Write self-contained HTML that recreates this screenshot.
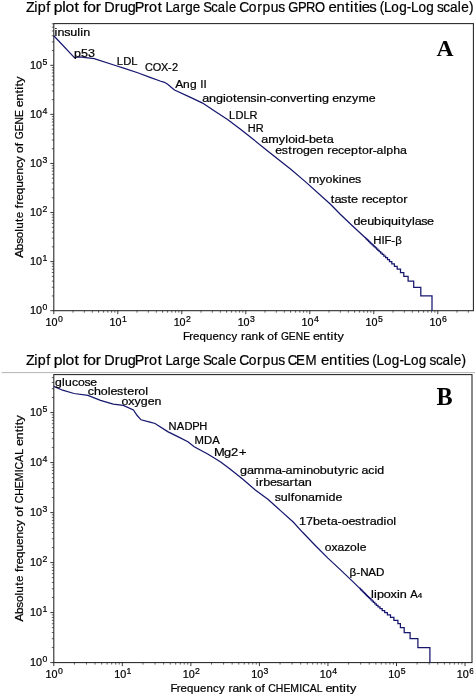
<!DOCTYPE html>
<html><head><meta charset="utf-8"><title>Zipf plots</title>
<style>
html,body{margin:0;padding:0;background:#fff;}
body{width:475px;height:696px;overflow:hidden;}
svg{display:block;will-change:transform;}
text{font-family:"Liberation Sans",sans-serif;fill:#000;stroke:#000;stroke-width:0.22px;}
.ser{font-family:"Liberation Serif",serif;font-weight:bold;fill:#000;stroke:none;}
</style></head><body>
<svg width="475" height="696" viewBox="0 0 475 696">
<rect x="0" y="0" width="475" height="696" fill="#ffffff"/>

<text transform="translate(26.60,11.90) scale(0.994,1)" x="-0.70 7.61 11.16 19.66" y="0" font-size="14.40" stroke="none">Zipf</text><text transform="translate(54.01,11.90) scale(1.093,1)" x="-0.23 7.59 10.62 18.81" y="0" font-size="14.40" stroke="none">plot</text><text transform="translate(82.94,11.90) scale(1.084,1)" x="0.21 4.08 11.88" y="0" font-size="14.40" stroke="none">for</text><text transform="translate(104.71,11.90) scale(1.000,1)" x="-0.37 9.99 15.25 23.06 30.01 39.21 44.35 52.99" y="0" font-size="14.40" stroke="none">DrugProt</text><text transform="translate(165.89,11.90) scale(0.935,1)" x="-0.48 7.07 15.62 20.78 28.72" y="0" font-size="14.40" stroke="none">Large</text><text transform="translate(203.88,11.90) scale(0.906,1)" x="-0.82 8.02 15.35 23.82 27.71" y="0" font-size="14.40" stroke="none">Scale</text><text transform="translate(240.08,11.90) scale(0.964,1)" x="-0.86 8.97 17.71 23.22 31.77 39.64" y="0" font-size="14.40" stroke="none">Corpus</text><text transform="translate(288.39,11.90) scale(0.900,1)" x="-0.10 10.71 19.55 29.57" y="0" font-size="14.40" stroke="none">GPRO</text><text transform="translate(328.71,11.90) scale(1.038,1)" x="-0.24 7.49 15.93 20.48 24.29 28.91 31.94 39.07" y="0" font-size="14.40" stroke="none">entities</text><text transform="translate(379.61,11.90) scale(0.939,1)" x="0.14 4.58 12.51 20.86 28.96 33.43 41.36 49.70" y="0" font-size="14.40" stroke="none">(Log-Log</text><text transform="translate(437.26,11.90) scale(0.946,1)" x="-0.36 6.40 13.41 21.62 25.25 33.50" y="0" font-size="14.40" stroke="none">scale)</text>
<rect x="53.8" y="23.6" width="419.59999999999997" height="287.09999999999997" fill="none" stroke="#222222" stroke-width="1.05"/>
<line x1="53.80" y1="310.7" x2="53.80" y2="314.2" stroke="#222222" stroke-width="0.9"/>
<line x1="73.07" y1="310.7" x2="73.07" y2="312.7" stroke="#222222" stroke-width="0.7"/>
<line x1="84.34" y1="310.7" x2="84.34" y2="312.7" stroke="#222222" stroke-width="0.7"/>
<line x1="92.33" y1="310.7" x2="92.33" y2="312.7" stroke="#222222" stroke-width="0.7"/>
<line x1="98.53" y1="310.7" x2="98.53" y2="312.7" stroke="#222222" stroke-width="0.7"/>
<line x1="103.60" y1="310.7" x2="103.60" y2="312.7" stroke="#222222" stroke-width="0.7"/>
<line x1="107.89" y1="310.7" x2="107.89" y2="312.7" stroke="#222222" stroke-width="0.7"/>
<line x1="111.60" y1="310.7" x2="111.60" y2="312.7" stroke="#222222" stroke-width="0.7"/>
<line x1="114.87" y1="310.7" x2="114.87" y2="312.7" stroke="#222222" stroke-width="0.7"/>
<line x1="117.80" y1="310.7" x2="117.80" y2="314.2" stroke="#222222" stroke-width="0.9"/>
<line x1="137.07" y1="310.7" x2="137.07" y2="312.7" stroke="#222222" stroke-width="0.7"/>
<line x1="148.34" y1="310.7" x2="148.34" y2="312.7" stroke="#222222" stroke-width="0.7"/>
<line x1="156.33" y1="310.7" x2="156.33" y2="312.7" stroke="#222222" stroke-width="0.7"/>
<line x1="162.53" y1="310.7" x2="162.53" y2="312.7" stroke="#222222" stroke-width="0.7"/>
<line x1="167.60" y1="310.7" x2="167.60" y2="312.7" stroke="#222222" stroke-width="0.7"/>
<line x1="171.89" y1="310.7" x2="171.89" y2="312.7" stroke="#222222" stroke-width="0.7"/>
<line x1="175.60" y1="310.7" x2="175.60" y2="312.7" stroke="#222222" stroke-width="0.7"/>
<line x1="178.87" y1="310.7" x2="178.87" y2="312.7" stroke="#222222" stroke-width="0.7"/>
<line x1="181.80" y1="310.7" x2="181.80" y2="314.2" stroke="#222222" stroke-width="0.9"/>
<line x1="201.07" y1="310.7" x2="201.07" y2="312.7" stroke="#222222" stroke-width="0.7"/>
<line x1="212.34" y1="310.7" x2="212.34" y2="312.7" stroke="#222222" stroke-width="0.7"/>
<line x1="220.33" y1="310.7" x2="220.33" y2="312.7" stroke="#222222" stroke-width="0.7"/>
<line x1="226.53" y1="310.7" x2="226.53" y2="312.7" stroke="#222222" stroke-width="0.7"/>
<line x1="231.60" y1="310.7" x2="231.60" y2="312.7" stroke="#222222" stroke-width="0.7"/>
<line x1="235.89" y1="310.7" x2="235.89" y2="312.7" stroke="#222222" stroke-width="0.7"/>
<line x1="239.60" y1="310.7" x2="239.60" y2="312.7" stroke="#222222" stroke-width="0.7"/>
<line x1="242.87" y1="310.7" x2="242.87" y2="312.7" stroke="#222222" stroke-width="0.7"/>
<line x1="245.80" y1="310.7" x2="245.80" y2="314.2" stroke="#222222" stroke-width="0.9"/>
<line x1="265.07" y1="310.7" x2="265.07" y2="312.7" stroke="#222222" stroke-width="0.7"/>
<line x1="276.34" y1="310.7" x2="276.34" y2="312.7" stroke="#222222" stroke-width="0.7"/>
<line x1="284.33" y1="310.7" x2="284.33" y2="312.7" stroke="#222222" stroke-width="0.7"/>
<line x1="290.53" y1="310.7" x2="290.53" y2="312.7" stroke="#222222" stroke-width="0.7"/>
<line x1="295.60" y1="310.7" x2="295.60" y2="312.7" stroke="#222222" stroke-width="0.7"/>
<line x1="299.89" y1="310.7" x2="299.89" y2="312.7" stroke="#222222" stroke-width="0.7"/>
<line x1="303.60" y1="310.7" x2="303.60" y2="312.7" stroke="#222222" stroke-width="0.7"/>
<line x1="306.87" y1="310.7" x2="306.87" y2="312.7" stroke="#222222" stroke-width="0.7"/>
<line x1="309.80" y1="310.7" x2="309.80" y2="314.2" stroke="#222222" stroke-width="0.9"/>
<line x1="329.07" y1="310.7" x2="329.07" y2="312.7" stroke="#222222" stroke-width="0.7"/>
<line x1="340.34" y1="310.7" x2="340.34" y2="312.7" stroke="#222222" stroke-width="0.7"/>
<line x1="348.33" y1="310.7" x2="348.33" y2="312.7" stroke="#222222" stroke-width="0.7"/>
<line x1="354.53" y1="310.7" x2="354.53" y2="312.7" stroke="#222222" stroke-width="0.7"/>
<line x1="359.60" y1="310.7" x2="359.60" y2="312.7" stroke="#222222" stroke-width="0.7"/>
<line x1="363.89" y1="310.7" x2="363.89" y2="312.7" stroke="#222222" stroke-width="0.7"/>
<line x1="367.60" y1="310.7" x2="367.60" y2="312.7" stroke="#222222" stroke-width="0.7"/>
<line x1="370.87" y1="310.7" x2="370.87" y2="312.7" stroke="#222222" stroke-width="0.7"/>
<line x1="373.80" y1="310.7" x2="373.80" y2="314.2" stroke="#222222" stroke-width="0.9"/>
<line x1="393.07" y1="310.7" x2="393.07" y2="312.7" stroke="#222222" stroke-width="0.7"/>
<line x1="404.34" y1="310.7" x2="404.34" y2="312.7" stroke="#222222" stroke-width="0.7"/>
<line x1="412.33" y1="310.7" x2="412.33" y2="312.7" stroke="#222222" stroke-width="0.7"/>
<line x1="418.53" y1="310.7" x2="418.53" y2="312.7" stroke="#222222" stroke-width="0.7"/>
<line x1="423.60" y1="310.7" x2="423.60" y2="312.7" stroke="#222222" stroke-width="0.7"/>
<line x1="427.89" y1="310.7" x2="427.89" y2="312.7" stroke="#222222" stroke-width="0.7"/>
<line x1="431.60" y1="310.7" x2="431.60" y2="312.7" stroke="#222222" stroke-width="0.7"/>
<line x1="434.87" y1="310.7" x2="434.87" y2="312.7" stroke="#222222" stroke-width="0.7"/>
<line x1="437.80" y1="310.7" x2="437.80" y2="314.2" stroke="#222222" stroke-width="0.9"/>
<line x1="457.07" y1="310.7" x2="457.07" y2="312.7" stroke="#222222" stroke-width="0.7"/>
<line x1="468.34" y1="310.7" x2="468.34" y2="312.7" stroke="#222222" stroke-width="0.7"/>
<line x1="50.3" y1="310.70" x2="53.8" y2="310.70" stroke="#222222" stroke-width="0.9"/>
<line x1="51.8" y1="295.93" x2="53.8" y2="295.93" stroke="#222222" stroke-width="0.7"/>
<line x1="51.8" y1="287.28" x2="53.8" y2="287.28" stroke="#222222" stroke-width="0.7"/>
<line x1="51.8" y1="281.15" x2="53.8" y2="281.15" stroke="#222222" stroke-width="0.7"/>
<line x1="51.8" y1="276.39" x2="53.8" y2="276.39" stroke="#222222" stroke-width="0.7"/>
<line x1="51.8" y1="272.51" x2="53.8" y2="272.51" stroke="#222222" stroke-width="0.7"/>
<line x1="51.8" y1="269.22" x2="53.8" y2="269.22" stroke="#222222" stroke-width="0.7"/>
<line x1="51.8" y1="266.38" x2="53.8" y2="266.38" stroke="#222222" stroke-width="0.7"/>
<line x1="51.8" y1="263.87" x2="53.8" y2="263.87" stroke="#222222" stroke-width="0.7"/>
<line x1="50.3" y1="261.62" x2="53.8" y2="261.62" stroke="#222222" stroke-width="0.9"/>
<line x1="51.8" y1="246.85" x2="53.8" y2="246.85" stroke="#222222" stroke-width="0.7"/>
<line x1="51.8" y1="238.20" x2="53.8" y2="238.20" stroke="#222222" stroke-width="0.7"/>
<line x1="51.8" y1="232.07" x2="53.8" y2="232.07" stroke="#222222" stroke-width="0.7"/>
<line x1="51.8" y1="227.31" x2="53.8" y2="227.31" stroke="#222222" stroke-width="0.7"/>
<line x1="51.8" y1="223.43" x2="53.8" y2="223.43" stroke="#222222" stroke-width="0.7"/>
<line x1="51.8" y1="220.14" x2="53.8" y2="220.14" stroke="#222222" stroke-width="0.7"/>
<line x1="51.8" y1="217.30" x2="53.8" y2="217.30" stroke="#222222" stroke-width="0.7"/>
<line x1="51.8" y1="214.79" x2="53.8" y2="214.79" stroke="#222222" stroke-width="0.7"/>
<line x1="50.3" y1="212.54" x2="53.8" y2="212.54" stroke="#222222" stroke-width="0.9"/>
<line x1="51.8" y1="197.77" x2="53.8" y2="197.77" stroke="#222222" stroke-width="0.7"/>
<line x1="51.8" y1="189.12" x2="53.8" y2="189.12" stroke="#222222" stroke-width="0.7"/>
<line x1="51.8" y1="182.99" x2="53.8" y2="182.99" stroke="#222222" stroke-width="0.7"/>
<line x1="51.8" y1="178.23" x2="53.8" y2="178.23" stroke="#222222" stroke-width="0.7"/>
<line x1="51.8" y1="174.35" x2="53.8" y2="174.35" stroke="#222222" stroke-width="0.7"/>
<line x1="51.8" y1="171.06" x2="53.8" y2="171.06" stroke="#222222" stroke-width="0.7"/>
<line x1="51.8" y1="168.22" x2="53.8" y2="168.22" stroke="#222222" stroke-width="0.7"/>
<line x1="51.8" y1="165.71" x2="53.8" y2="165.71" stroke="#222222" stroke-width="0.7"/>
<line x1="50.3" y1="163.46" x2="53.8" y2="163.46" stroke="#222222" stroke-width="0.9"/>
<line x1="51.8" y1="148.69" x2="53.8" y2="148.69" stroke="#222222" stroke-width="0.7"/>
<line x1="51.8" y1="140.04" x2="53.8" y2="140.04" stroke="#222222" stroke-width="0.7"/>
<line x1="51.8" y1="133.91" x2="53.8" y2="133.91" stroke="#222222" stroke-width="0.7"/>
<line x1="51.8" y1="129.15" x2="53.8" y2="129.15" stroke="#222222" stroke-width="0.7"/>
<line x1="51.8" y1="125.27" x2="53.8" y2="125.27" stroke="#222222" stroke-width="0.7"/>
<line x1="51.8" y1="121.98" x2="53.8" y2="121.98" stroke="#222222" stroke-width="0.7"/>
<line x1="51.8" y1="119.14" x2="53.8" y2="119.14" stroke="#222222" stroke-width="0.7"/>
<line x1="51.8" y1="116.63" x2="53.8" y2="116.63" stroke="#222222" stroke-width="0.7"/>
<line x1="50.3" y1="114.38" x2="53.8" y2="114.38" stroke="#222222" stroke-width="0.9"/>
<line x1="51.8" y1="99.61" x2="53.8" y2="99.61" stroke="#222222" stroke-width="0.7"/>
<line x1="51.8" y1="90.96" x2="53.8" y2="90.96" stroke="#222222" stroke-width="0.7"/>
<line x1="51.8" y1="84.83" x2="53.8" y2="84.83" stroke="#222222" stroke-width="0.7"/>
<line x1="51.8" y1="80.07" x2="53.8" y2="80.07" stroke="#222222" stroke-width="0.7"/>
<line x1="51.8" y1="76.19" x2="53.8" y2="76.19" stroke="#222222" stroke-width="0.7"/>
<line x1="51.8" y1="72.90" x2="53.8" y2="72.90" stroke="#222222" stroke-width="0.7"/>
<line x1="51.8" y1="70.06" x2="53.8" y2="70.06" stroke="#222222" stroke-width="0.7"/>
<line x1="51.8" y1="67.55" x2="53.8" y2="67.55" stroke="#222222" stroke-width="0.7"/>
<line x1="50.3" y1="65.30" x2="53.8" y2="65.30" stroke="#222222" stroke-width="0.9"/>
<line x1="51.8" y1="50.53" x2="53.8" y2="50.53" stroke="#222222" stroke-width="0.7"/>
<line x1="51.8" y1="41.88" x2="53.8" y2="41.88" stroke="#222222" stroke-width="0.7"/>
<line x1="51.8" y1="35.75" x2="53.8" y2="35.75" stroke="#222222" stroke-width="0.7"/>
<line x1="51.8" y1="30.99" x2="53.8" y2="30.99" stroke="#222222" stroke-width="0.7"/>
<line x1="51.8" y1="27.11" x2="53.8" y2="27.11" stroke="#222222" stroke-width="0.7"/>
<line x1="51.8" y1="23.82" x2="53.8" y2="23.82" stroke="#222222" stroke-width="0.7"/>
<text x="45.62" y="325.60" font-size="10.97" textLength="12.00" lengthAdjust="spacingAndGlyphs">10</text><text x="57.97" y="321.60" font-size="8.7">0</text>
<text x="109.62" y="325.60" font-size="10.97" textLength="12.00" lengthAdjust="spacingAndGlyphs">10</text><text x="121.97" y="321.60" font-size="8.7">1</text>
<text x="173.63" y="325.60" font-size="10.97" textLength="12.00" lengthAdjust="spacingAndGlyphs">10</text><text x="185.98" y="321.60" font-size="8.7">2</text>
<text x="237.63" y="325.60" font-size="10.97" textLength="12.00" lengthAdjust="spacingAndGlyphs">10</text><text x="249.98" y="321.60" font-size="8.7">3</text>
<text x="301.62" y="325.60" font-size="10.97" textLength="12.00" lengthAdjust="spacingAndGlyphs">10</text><text x="313.98" y="321.60" font-size="8.7">4</text>
<text x="365.62" y="325.60" font-size="10.97" textLength="12.00" lengthAdjust="spacingAndGlyphs">10</text><text x="377.98" y="321.60" font-size="8.7">5</text>
<text x="429.62" y="325.60" font-size="10.97" textLength="12.00" lengthAdjust="spacingAndGlyphs">10</text><text x="441.98" y="321.60" font-size="8.7">6</text>
<text x="30.05" y="314.30" font-size="10.97" textLength="12.00" lengthAdjust="spacingAndGlyphs">10</text><text x="42.40" y="310.30" font-size="8.7">0</text>
<text x="30.05" y="265.22" font-size="10.97" textLength="12.00" lengthAdjust="spacingAndGlyphs">10</text><text x="42.40" y="261.22" font-size="8.7">1</text>
<text x="30.05" y="216.14" font-size="10.97" textLength="12.00" lengthAdjust="spacingAndGlyphs">10</text><text x="42.40" y="212.14" font-size="8.7">2</text>
<text x="30.05" y="167.06" font-size="10.97" textLength="12.00" lengthAdjust="spacingAndGlyphs">10</text><text x="42.40" y="163.06" font-size="8.7">3</text>
<text x="30.05" y="117.98" font-size="10.97" textLength="12.00" lengthAdjust="spacingAndGlyphs">10</text><text x="42.40" y="113.98" font-size="8.7">4</text>
<text x="30.05" y="68.90" font-size="10.97" textLength="12.00" lengthAdjust="spacingAndGlyphs">10</text><text x="42.40" y="64.90" font-size="8.7">5</text>
<text transform="translate(183.51,340.00) scale(1.041,1)" x="-0.47 5.64 9.09 15.25 21.62 27.89 34.15 40.40 46.13" y="0" font-size="10.97">Frequency</text><text transform="translate(240.82,340.00) scale(1.095,1)" x="0.13 3.80 9.74 15.84" y="0" font-size="10.97">rank</text><text transform="translate(267.52,340.00) scale(1.101,1)" x="-0.15 5.96" y="0" font-size="10.97">of</text><text transform="translate(280.91,340.00) scale(0.936,1)" x="0.06 8.51 15.91 23.91" y="0" font-size="10.97">GENE</text><text transform="translate(313.35,340.00) scale(1.157,1)" x="-0.27 5.37 11.53 14.86 17.58 20.81" y="0" font-size="10.97">entity</text>
<g transform="translate(22.7,257.45) rotate(-90)"><text transform="translate(0.00,0.00) scale(1.070,1)" x="-0.32 6.73 12.69 17.91 24.09 26.71 33.25 36.64" y="0" font-size="10.97">Absolute</text><text transform="translate(48.99,0.00) scale(1.088,1)" x="0.17 3.53 7.13 13.03 19.12 25.12 31.12 37.12 42.60" y="0" font-size="10.97">frequency</text><text transform="translate(104.73,0.00) scale(1.101,1)" x="-0.15 5.96" y="0" font-size="10.97">of</text><text transform="translate(118.12,0.00) scale(0.936,1)" x="0.06 8.51 15.91 23.91" y="0" font-size="10.97">GENE</text><text transform="translate(150.57,0.00) scale(1.157,1)" x="-0.27 5.37 11.53 14.86 17.58 20.81" y="0" font-size="10.97">entity</text></g>
<polyline fill="none" stroke="#16166e" stroke-width="1.25" stroke-linejoin="miter" points="53.8,35.7 74.4,57.6 79.5,57.0 94.2,58.6 117.0,66.0 123.7,68.1 138.4,73.0 150.0,77.4 160.1,81.0 164.4,82.3 167.7,84.2 170.9,87.0 174.5,90.0 190.0,97.1 202.6,103.1 215.3,111.5 227.9,119.8 240.5,129.2 253.2,139.3 265.8,149.4 278.4,159.5 291.1,169.6 305.3,181.6 330.5,204.3 340.0,214.0 352.6,226.0 365.3,237.8 372.0,244.1 366.1,238.2 366.1,238.9 366.9,238.9 366.9,239.7 367.7,239.7 367.7,240.4 368.5,240.4 368.5,241.3 369.4,241.3 369.4,242.1 370.3,242.1 370.3,243.0 371.2,243.0 371.2,243.9 372.2,243.9 372.2,244.8 373.3,244.8 373.3,245.8 374.3,245.8 374.3,246.8 375.5,246.8 375.5,247.9 376.6,247.9 376.6,249.1 377.9,249.1 377.9,250.3 379.2,250.3 379.2,251.6 380.7,251.6 380.7,253.0 382.2,253.0 382.2,254.4 383.8,254.4 383.8,256.0 385.6,256.0 385.6,257.7 387.5,257.7 387.5,259.6 389.5,259.6 389.5,261.6 391.8,261.6 391.8,263.9 394.4,263.9 394.4,266.4 397.2,266.4 397.2,269.2 400.5,269.2 400.5,272.5 403.8,272.5 403.8,276.4 408.1,276.4 408.1,281.2 413.7,281.2 413.7,287.3 420.8,287.3 420.8,295.9 432.0,295.9 432.0,310.7"/>
<text transform="translate(54.50,36.00) scale(1.094,1)" x="0.11 2.76 8.86 14.32 20.80 23.58 26.23" y="0" font-size="11.50">insulin</text>
<text transform="translate(74.10,56.60) scale(1.089,1)" x="-0.00 6.39 12.79" y="0" font-size="11.50">p53</text>
<text transform="translate(116.90,64.60) scale(0.978,1)" x="-0.08 6.39 14.78" y="0" font-size="11.50">LDL</text>
<text transform="translate(145.10,71.30) scale(0.952,1)" x="-0.13 8.09 16.83 24.11 28.28" y="0" font-size="11.50">COX-2</text>
<text transform="translate(175.50,87.90) scale(1.045,1)" x="-0.25 7.29 13.94" y="0" font-size="11.50">Ang</text><text transform="translate(200.36,87.90) scale(1.011,1)" x="-0.00 3.19" y="0" font-size="11.50">II</text>
<text transform="translate(202.30,101.60) scale(1.094,1)" x="-0.13 6.11 12.46 18.95 21.48 28.10 31.54 37.79 43.90 49.49 52.13 58.40 61.99 67.48 73.72 80.18 85.89 92.31 96.65 100.32 102.97 109.31" y="0" font-size="11.50">angiotensin-converting</text><text transform="translate(332.34,101.60) scale(1.076,1)" x="-0.07 6.29 12.51 18.19 24.25 33.93" y="0" font-size="11.50">enzyme</text>
<text transform="translate(229.10,119.20) scale(0.961,1)" x="-0.02 6.59 15.10 21.28" y="0" font-size="11.50">LDLR</text>
<text transform="translate(247.70,132.10) scale(0.954,1)" x="0.16 8.47" y="0" font-size="11.50">HR</text>
<text transform="translate(261.40,142.80) scale(1.097,1)" x="-0.14 6.19 15.91 21.85 24.37 30.73 33.36 39.61 43.29 49.53 56.16 59.57" y="0" font-size="11.50">amyloid-beta</text>
<text transform="translate(275.30,153.90) scale(1.080,1)" x="-0.08 6.00 11.91 15.67 19.46 25.67 32.00 38.33" y="0" font-size="11.50">estrogen</text><text transform="translate(327.10,153.90) scale(1.076,1)" x="0.18 4.00 10.14 15.74 22.10 28.92 32.43 38.92 42.52 45.86 52.31 55.03 61.48 67.83" y="0" font-size="11.50">receptor-alpha</text>
<text transform="translate(308.50,182.50) scale(1.083,1)" x="0.13 9.96 15.72 22.06 27.99 30.68 36.99 43.05" y="0" font-size="11.50">myokines</text>
<text transform="translate(330.30,202.60) scale(1.113,1)" x="0.33 3.68 9.58 15.35 18.70" y="0" font-size="11.50">taste</text><text transform="translate(361.52,202.60) scale(1.095,1)" x="0.14 3.88 9.91 15.41 21.66 28.40 31.81 38.21" y="0" font-size="11.50">receptor</text>
<text transform="translate(353.50,224.70) scale(1.095,1)" x="-0.02 6.22 12.47 18.81 25.29 27.93 34.27 40.75 43.78 47.42 53.36 55.89 61.88 67.24" y="0" font-size="11.50">deubiquitylase</text>
<text transform="translate(373.30,244.10) scale(0.991,1)" x="0.00 8.34 11.23 18.00 22.13" y="0" font-size="11.50">HIF-β</text>
<text class="ser" x="436.4" y="56.1" font-size="23.6">A</text>
<line x1="1.5" y1="372.6" x2="475" y2="372.6" stroke="#b4b4b4" stroke-width="1"/>
<text transform="translate(26.60,364.70) scale(0.967,1)" x="-0.72 7.82 11.47 20.21" y="0" font-size="14.80" stroke="none">Zipf</text><text transform="translate(54.00,364.70) scale(1.064,1)" x="-0.24 7.80 10.91 19.34" y="0" font-size="14.80" stroke="none">plot</text><text transform="translate(82.93,364.70) scale(1.054,1)" x="0.22 4.20 12.21" y="0" font-size="14.80" stroke="none">for</text><text transform="translate(104.69,364.70) scale(0.973,1)" x="-0.38 10.27 15.67 23.70 30.85 40.30 45.58 54.46" y="0" font-size="14.80" stroke="none">DrugProt</text><text transform="translate(165.86,364.70) scale(0.910,1)" x="-0.49 7.27 16.06 21.36 29.52" y="0" font-size="14.80" stroke="none">Large</text><text transform="translate(203.85,364.70) scale(0.900,1)" x="-0.93 8.00 15.38 23.95 27.82" y="0" font-size="14.80" stroke="none">Scale</text><text transform="translate(240.04,364.70) scale(0.938,1)" x="-0.88 9.22 18.20 23.86 32.65 40.74" y="0" font-size="14.80" stroke="none">Corpus</text><text transform="translate(288.34,364.70) scale(0.900,1)" x="-0.69 8.62 19.10" y="0" font-size="14.80" stroke="none">CEM</text><text transform="translate(321.34,364.70) scale(1.010,1)" x="-0.25 7.70 16.38 21.05 24.97 29.71 32.83 40.15" y="0" font-size="14.80" stroke="none">entities</text><text transform="translate(372.23,364.70) scale(0.913,1)" x="0.14 4.71 12.86 21.44 29.76 34.36 42.50 51.08" y="0" font-size="14.80" stroke="none">(Log-Log</text><text transform="translate(429.87,364.70) scale(0.920,1)" x="-0.37 6.58 13.78 22.22 25.95 34.43" y="0" font-size="14.80" stroke="none">scale)</text>
<rect x="53.8" y="374.6" width="418.2" height="288.0" fill="none" stroke="#222222" stroke-width="1.05"/>
<line x1="53.80" y1="662.6" x2="53.80" y2="666.1" stroke="#222222" stroke-width="0.9"/>
<line x1="74.43" y1="662.6" x2="74.43" y2="664.6" stroke="#222222" stroke-width="0.7"/>
<line x1="86.50" y1="662.6" x2="86.50" y2="664.6" stroke="#222222" stroke-width="0.7"/>
<line x1="95.07" y1="662.6" x2="95.07" y2="664.6" stroke="#222222" stroke-width="0.7"/>
<line x1="101.71" y1="662.6" x2="101.71" y2="664.6" stroke="#222222" stroke-width="0.7"/>
<line x1="107.13" y1="662.6" x2="107.13" y2="664.6" stroke="#222222" stroke-width="0.7"/>
<line x1="111.72" y1="662.6" x2="111.72" y2="664.6" stroke="#222222" stroke-width="0.7"/>
<line x1="115.70" y1="662.6" x2="115.70" y2="664.6" stroke="#222222" stroke-width="0.7"/>
<line x1="119.20" y1="662.6" x2="119.20" y2="664.6" stroke="#222222" stroke-width="0.7"/>
<line x1="122.34" y1="662.6" x2="122.34" y2="666.1" stroke="#222222" stroke-width="0.9"/>
<line x1="142.97" y1="662.6" x2="142.97" y2="664.6" stroke="#222222" stroke-width="0.7"/>
<line x1="155.04" y1="662.6" x2="155.04" y2="664.6" stroke="#222222" stroke-width="0.7"/>
<line x1="163.61" y1="662.6" x2="163.61" y2="664.6" stroke="#222222" stroke-width="0.7"/>
<line x1="170.25" y1="662.6" x2="170.25" y2="664.6" stroke="#222222" stroke-width="0.7"/>
<line x1="175.67" y1="662.6" x2="175.67" y2="664.6" stroke="#222222" stroke-width="0.7"/>
<line x1="180.26" y1="662.6" x2="180.26" y2="664.6" stroke="#222222" stroke-width="0.7"/>
<line x1="184.24" y1="662.6" x2="184.24" y2="664.6" stroke="#222222" stroke-width="0.7"/>
<line x1="187.74" y1="662.6" x2="187.74" y2="664.6" stroke="#222222" stroke-width="0.7"/>
<line x1="190.88" y1="662.6" x2="190.88" y2="666.1" stroke="#222222" stroke-width="0.9"/>
<line x1="211.51" y1="662.6" x2="211.51" y2="664.6" stroke="#222222" stroke-width="0.7"/>
<line x1="223.58" y1="662.6" x2="223.58" y2="664.6" stroke="#222222" stroke-width="0.7"/>
<line x1="232.15" y1="662.6" x2="232.15" y2="664.6" stroke="#222222" stroke-width="0.7"/>
<line x1="238.79" y1="662.6" x2="238.79" y2="664.6" stroke="#222222" stroke-width="0.7"/>
<line x1="244.21" y1="662.6" x2="244.21" y2="664.6" stroke="#222222" stroke-width="0.7"/>
<line x1="248.80" y1="662.6" x2="248.80" y2="664.6" stroke="#222222" stroke-width="0.7"/>
<line x1="252.78" y1="662.6" x2="252.78" y2="664.6" stroke="#222222" stroke-width="0.7"/>
<line x1="256.28" y1="662.6" x2="256.28" y2="664.6" stroke="#222222" stroke-width="0.7"/>
<line x1="259.42" y1="662.6" x2="259.42" y2="666.1" stroke="#222222" stroke-width="0.9"/>
<line x1="280.05" y1="662.6" x2="280.05" y2="664.6" stroke="#222222" stroke-width="0.7"/>
<line x1="292.12" y1="662.6" x2="292.12" y2="664.6" stroke="#222222" stroke-width="0.7"/>
<line x1="300.69" y1="662.6" x2="300.69" y2="664.6" stroke="#222222" stroke-width="0.7"/>
<line x1="307.33" y1="662.6" x2="307.33" y2="664.6" stroke="#222222" stroke-width="0.7"/>
<line x1="312.75" y1="662.6" x2="312.75" y2="664.6" stroke="#222222" stroke-width="0.7"/>
<line x1="317.34" y1="662.6" x2="317.34" y2="664.6" stroke="#222222" stroke-width="0.7"/>
<line x1="321.32" y1="662.6" x2="321.32" y2="664.6" stroke="#222222" stroke-width="0.7"/>
<line x1="324.82" y1="662.6" x2="324.82" y2="664.6" stroke="#222222" stroke-width="0.7"/>
<line x1="327.96" y1="662.6" x2="327.96" y2="666.1" stroke="#222222" stroke-width="0.9"/>
<line x1="348.59" y1="662.6" x2="348.59" y2="664.6" stroke="#222222" stroke-width="0.7"/>
<line x1="360.66" y1="662.6" x2="360.66" y2="664.6" stroke="#222222" stroke-width="0.7"/>
<line x1="369.23" y1="662.6" x2="369.23" y2="664.6" stroke="#222222" stroke-width="0.7"/>
<line x1="375.87" y1="662.6" x2="375.87" y2="664.6" stroke="#222222" stroke-width="0.7"/>
<line x1="381.29" y1="662.6" x2="381.29" y2="664.6" stroke="#222222" stroke-width="0.7"/>
<line x1="385.88" y1="662.6" x2="385.88" y2="664.6" stroke="#222222" stroke-width="0.7"/>
<line x1="389.86" y1="662.6" x2="389.86" y2="664.6" stroke="#222222" stroke-width="0.7"/>
<line x1="393.36" y1="662.6" x2="393.36" y2="664.6" stroke="#222222" stroke-width="0.7"/>
<line x1="396.50" y1="662.6" x2="396.50" y2="666.1" stroke="#222222" stroke-width="0.9"/>
<line x1="417.13" y1="662.6" x2="417.13" y2="664.6" stroke="#222222" stroke-width="0.7"/>
<line x1="429.20" y1="662.6" x2="429.20" y2="664.6" stroke="#222222" stroke-width="0.7"/>
<line x1="437.77" y1="662.6" x2="437.77" y2="664.6" stroke="#222222" stroke-width="0.7"/>
<line x1="444.41" y1="662.6" x2="444.41" y2="664.6" stroke="#222222" stroke-width="0.7"/>
<line x1="449.83" y1="662.6" x2="449.83" y2="664.6" stroke="#222222" stroke-width="0.7"/>
<line x1="454.42" y1="662.6" x2="454.42" y2="664.6" stroke="#222222" stroke-width="0.7"/>
<line x1="458.40" y1="662.6" x2="458.40" y2="664.6" stroke="#222222" stroke-width="0.7"/>
<line x1="461.90" y1="662.6" x2="461.90" y2="664.6" stroke="#222222" stroke-width="0.7"/>
<line x1="465.04" y1="662.6" x2="465.04" y2="666.1" stroke="#222222" stroke-width="0.9"/>
<line x1="50.3" y1="662.60" x2="53.8" y2="662.60" stroke="#222222" stroke-width="0.9"/>
<line x1="51.8" y1="647.55" x2="53.8" y2="647.55" stroke="#222222" stroke-width="0.7"/>
<line x1="51.8" y1="638.74" x2="53.8" y2="638.74" stroke="#222222" stroke-width="0.7"/>
<line x1="51.8" y1="632.50" x2="53.8" y2="632.50" stroke="#222222" stroke-width="0.7"/>
<line x1="51.8" y1="627.65" x2="53.8" y2="627.65" stroke="#222222" stroke-width="0.7"/>
<line x1="51.8" y1="623.69" x2="53.8" y2="623.69" stroke="#222222" stroke-width="0.7"/>
<line x1="51.8" y1="620.35" x2="53.8" y2="620.35" stroke="#222222" stroke-width="0.7"/>
<line x1="51.8" y1="617.45" x2="53.8" y2="617.45" stroke="#222222" stroke-width="0.7"/>
<line x1="51.8" y1="614.89" x2="53.8" y2="614.89" stroke="#222222" stroke-width="0.7"/>
<line x1="50.3" y1="612.60" x2="53.8" y2="612.60" stroke="#222222" stroke-width="0.9"/>
<line x1="51.8" y1="597.55" x2="53.8" y2="597.55" stroke="#222222" stroke-width="0.7"/>
<line x1="51.8" y1="588.74" x2="53.8" y2="588.74" stroke="#222222" stroke-width="0.7"/>
<line x1="51.8" y1="582.50" x2="53.8" y2="582.50" stroke="#222222" stroke-width="0.7"/>
<line x1="51.8" y1="577.65" x2="53.8" y2="577.65" stroke="#222222" stroke-width="0.7"/>
<line x1="51.8" y1="573.69" x2="53.8" y2="573.69" stroke="#222222" stroke-width="0.7"/>
<line x1="51.8" y1="570.35" x2="53.8" y2="570.35" stroke="#222222" stroke-width="0.7"/>
<line x1="51.8" y1="567.45" x2="53.8" y2="567.45" stroke="#222222" stroke-width="0.7"/>
<line x1="51.8" y1="564.89" x2="53.8" y2="564.89" stroke="#222222" stroke-width="0.7"/>
<line x1="50.3" y1="562.60" x2="53.8" y2="562.60" stroke="#222222" stroke-width="0.9"/>
<line x1="51.8" y1="547.55" x2="53.8" y2="547.55" stroke="#222222" stroke-width="0.7"/>
<line x1="51.8" y1="538.74" x2="53.8" y2="538.74" stroke="#222222" stroke-width="0.7"/>
<line x1="51.8" y1="532.50" x2="53.8" y2="532.50" stroke="#222222" stroke-width="0.7"/>
<line x1="51.8" y1="527.65" x2="53.8" y2="527.65" stroke="#222222" stroke-width="0.7"/>
<line x1="51.8" y1="523.69" x2="53.8" y2="523.69" stroke="#222222" stroke-width="0.7"/>
<line x1="51.8" y1="520.35" x2="53.8" y2="520.35" stroke="#222222" stroke-width="0.7"/>
<line x1="51.8" y1="517.45" x2="53.8" y2="517.45" stroke="#222222" stroke-width="0.7"/>
<line x1="51.8" y1="514.89" x2="53.8" y2="514.89" stroke="#222222" stroke-width="0.7"/>
<line x1="50.3" y1="512.60" x2="53.8" y2="512.60" stroke="#222222" stroke-width="0.9"/>
<line x1="51.8" y1="497.55" x2="53.8" y2="497.55" stroke="#222222" stroke-width="0.7"/>
<line x1="51.8" y1="488.74" x2="53.8" y2="488.74" stroke="#222222" stroke-width="0.7"/>
<line x1="51.8" y1="482.50" x2="53.8" y2="482.50" stroke="#222222" stroke-width="0.7"/>
<line x1="51.8" y1="477.65" x2="53.8" y2="477.65" stroke="#222222" stroke-width="0.7"/>
<line x1="51.8" y1="473.69" x2="53.8" y2="473.69" stroke="#222222" stroke-width="0.7"/>
<line x1="51.8" y1="470.35" x2="53.8" y2="470.35" stroke="#222222" stroke-width="0.7"/>
<line x1="51.8" y1="467.45" x2="53.8" y2="467.45" stroke="#222222" stroke-width="0.7"/>
<line x1="51.8" y1="464.89" x2="53.8" y2="464.89" stroke="#222222" stroke-width="0.7"/>
<line x1="50.3" y1="462.60" x2="53.8" y2="462.60" stroke="#222222" stroke-width="0.9"/>
<line x1="51.8" y1="447.55" x2="53.8" y2="447.55" stroke="#222222" stroke-width="0.7"/>
<line x1="51.8" y1="438.74" x2="53.8" y2="438.74" stroke="#222222" stroke-width="0.7"/>
<line x1="51.8" y1="432.50" x2="53.8" y2="432.50" stroke="#222222" stroke-width="0.7"/>
<line x1="51.8" y1="427.65" x2="53.8" y2="427.65" stroke="#222222" stroke-width="0.7"/>
<line x1="51.8" y1="423.69" x2="53.8" y2="423.69" stroke="#222222" stroke-width="0.7"/>
<line x1="51.8" y1="420.35" x2="53.8" y2="420.35" stroke="#222222" stroke-width="0.7"/>
<line x1="51.8" y1="417.45" x2="53.8" y2="417.45" stroke="#222222" stroke-width="0.7"/>
<line x1="51.8" y1="414.89" x2="53.8" y2="414.89" stroke="#222222" stroke-width="0.7"/>
<line x1="50.3" y1="412.60" x2="53.8" y2="412.60" stroke="#222222" stroke-width="0.9"/>
<line x1="51.8" y1="397.55" x2="53.8" y2="397.55" stroke="#222222" stroke-width="0.7"/>
<line x1="51.8" y1="388.74" x2="53.8" y2="388.74" stroke="#222222" stroke-width="0.7"/>
<line x1="51.8" y1="382.50" x2="53.8" y2="382.50" stroke="#222222" stroke-width="0.7"/>
<line x1="51.8" y1="377.65" x2="53.8" y2="377.65" stroke="#222222" stroke-width="0.7"/>
<text x="45.62" y="678.00" font-size="10.97" textLength="12.00" lengthAdjust="spacingAndGlyphs">10</text><text x="57.97" y="674.00" font-size="8.7">0</text>
<text x="114.17" y="678.00" font-size="10.97" textLength="12.00" lengthAdjust="spacingAndGlyphs">10</text><text x="126.52" y="674.00" font-size="8.7">1</text>
<text x="182.71" y="678.00" font-size="10.97" textLength="12.00" lengthAdjust="spacingAndGlyphs">10</text><text x="195.06" y="674.00" font-size="8.7">2</text>
<text x="251.25" y="678.00" font-size="10.97" textLength="12.00" lengthAdjust="spacingAndGlyphs">10</text><text x="263.60" y="674.00" font-size="8.7">3</text>
<text x="319.79" y="678.00" font-size="10.97" textLength="12.00" lengthAdjust="spacingAndGlyphs">10</text><text x="332.14" y="674.00" font-size="8.7">4</text>
<text x="388.33" y="678.00" font-size="10.97" textLength="12.00" lengthAdjust="spacingAndGlyphs">10</text><text x="400.68" y="674.00" font-size="8.7">5</text>
<text x="456.87" y="678.00" font-size="10.97" textLength="12.00" lengthAdjust="spacingAndGlyphs">10</text><text x="469.22" y="674.00" font-size="8.7">6</text>
<text x="30.05" y="666.20" font-size="10.97" textLength="12.00" lengthAdjust="spacingAndGlyphs">10</text><text x="42.40" y="662.20" font-size="8.7">0</text>
<text x="30.05" y="616.20" font-size="10.97" textLength="12.00" lengthAdjust="spacingAndGlyphs">10</text><text x="42.40" y="612.20" font-size="8.7">1</text>
<text x="30.05" y="566.20" font-size="10.97" textLength="12.00" lengthAdjust="spacingAndGlyphs">10</text><text x="42.40" y="562.20" font-size="8.7">2</text>
<text x="30.05" y="516.20" font-size="10.97" textLength="12.00" lengthAdjust="spacingAndGlyphs">10</text><text x="42.40" y="512.20" font-size="8.7">3</text>
<text x="30.05" y="466.20" font-size="10.97" textLength="12.00" lengthAdjust="spacingAndGlyphs">10</text><text x="42.40" y="462.20" font-size="8.7">4</text>
<text x="30.05" y="416.20" font-size="10.97" textLength="12.00" lengthAdjust="spacingAndGlyphs">10</text><text x="42.40" y="412.20" font-size="8.7">5</text>
<text transform="translate(171.01,691.60) scale(1.041,1)" x="-0.47 5.64 9.09 15.25 21.62 27.89 34.15 40.40 46.13" y="0" font-size="10.97">Frequency</text><text transform="translate(228.32,691.60) scale(1.095,1)" x="0.13 3.80 9.74 15.84" y="0" font-size="10.97">rank</text><text transform="translate(255.02,691.60) scale(1.101,1)" x="-0.15 5.96" y="0" font-size="10.97">of</text><text transform="translate(268.41,691.60) scale(0.955,1)" x="-0.14 7.80 15.68 22.95 32.33 35.33 43.20 50.60" y="0" font-size="10.97">CHEMICAL</text><text transform="translate(325.85,691.60) scale(1.157,1)" x="-0.27 5.37 11.53 14.86 17.58 20.81" y="0" font-size="10.97">entity</text>
<g transform="translate(22.7,621.25) rotate(-90)"><text transform="translate(0.00,0.00) scale(1.070,1)" x="-0.32 6.73 12.69 17.91 24.09 26.71 33.25 36.64" y="0" font-size="10.97">Absolute</text><text transform="translate(48.99,0.00) scale(1.088,1)" x="0.17 3.53 7.13 13.03 19.12 25.12 31.12 37.12 42.60" y="0" font-size="10.97">frequency</text><text transform="translate(104.73,0.00) scale(1.101,1)" x="-0.15 5.96" y="0" font-size="10.97">of</text><text transform="translate(118.12,0.00) scale(0.955,1)" x="-0.14 7.80 15.68 22.95 32.33 35.33 43.20 50.60" y="0" font-size="10.97">CHEMICAL</text><text transform="translate(175.57,0.00) scale(1.157,1)" x="-0.27 5.37 11.53 14.86 17.58 20.81" y="0" font-size="10.97">entity</text></g>
<polyline fill="none" stroke="#16166e" stroke-width="1.25" stroke-linejoin="miter" points="53.8,386.4 62.6,390.2 74.0,393.5 87.9,395.3 100.5,400.3 113.2,404.1 123.3,405.4 133.4,409.9 137.2,415.5 141.0,419.8 150.0,422.2 155.0,423.5 167.7,431.6 180.3,437.9 187.9,441.7 194.2,446.7 208.1,454.3 220.7,461.9 230.0,468.9 242.6,479.1 255.3,489.9 267.9,499.3 280.5,510.6 293.2,522.0 302.6,532.3 315.3,545.5 327.9,558.1 340.0,569.4 352.6,581.4 362.0,590.6 360.5,588.7 360.5,589.5 361.3,589.5 361.3,590.2 362.1,590.2 362.1,591.0 362.9,591.0 362.9,591.9 363.7,591.9 363.7,592.7 364.6,592.7 364.6,593.6 365.6,593.6 365.6,594.5 366.5,594.5 366.5,595.5 367.5,595.5 367.5,596.5 368.6,596.5 368.6,597.5 369.7,597.5 369.7,598.7 370.9,598.7 370.9,599.8 372.1,599.8 372.1,601.1 373.4,601.1 373.4,602.4 374.8,602.4 374.8,603.8 376.3,603.8 376.3,605.3 378.0,605.3 378.0,606.9 380.0,606.9 380.0,608.6 382.2,608.6 382.2,610.5 384.7,610.5 384.7,612.6 387.4,612.6 387.4,614.9 390.5,614.9 390.5,617.4 393.9,617.4 393.9,620.3 397.9,620.3 397.9,623.7 400.4,623.7 400.4,627.7 404.2,627.7 404.2,632.5 410.1,632.5 410.1,638.7 417.9,638.7 417.9,647.5 429.9,647.5 429.9,662.6"/>
<text transform="translate(55.00,386.30) scale(1.062,1)" x="0.07 6.70 9.48 15.90 21.57 27.73 33.26" y="0" font-size="11.50">glucose</text>
<text transform="translate(87.90,395.10) scale(1.082,1)" x="-0.09 5.57 11.87 18.29 20.89 26.96 32.86 36.35 42.83 46.61 52.92" y="0" font-size="11.50">cholesterol</text>
<text transform="translate(121.50,405.20) scale(1.078,1)" x="-0.09 6.19 12.05 17.96 24.31 30.66" y="0" font-size="11.50">oxygen</text>
<text transform="translate(168.50,430.40) scale(0.968,1)" x="0.08 8.50 16.41 24.49 31.84" y="0" font-size="11.50">NADPH</text>
<text transform="translate(194.50,443.50) scale(0.985,1)" x="0.00 9.71 18.01" y="0" font-size="11.50">MDA</text>
<text transform="translate(214.70,456.20) scale(1.119,1)" x="-0.57 8.35 14.57 21.62" y="0" font-size="11.50">Mg2+</text>
<text transform="translate(240.10,473.80) scale(1.099,1)" x="-0.03 6.18 12.50 22.21 31.71 37.84 41.41 47.73 57.48 60.10 66.31 72.52 78.84 85.55 89.18 95.13 99.21 101.73" y="0" font-size="11.50">gamma-aminobutyric</text><text transform="translate(361.52,473.80) scale(1.077,1)" x="-0.08 6.15 11.95 14.67" y="0" font-size="11.50">acid</text>
<text transform="translate(255.70,486.00) scale(1.097,1)" x="0.11 2.91 6.85 13.08 19.08 24.41 30.81 35.13 38.55 44.77" y="0" font-size="11.50">irbesartan</text>
<text transform="translate(275.00,501.10) scale(1.085,1)" x="-0.25 5.26 11.77 14.63 17.89 24.18 30.47 36.88 46.71 49.39 55.70" y="0" font-size="11.50">sulfonamide</text>
<text transform="translate(299.10,525.10) scale(1.094,1)" x="-0.01 6.36 12.72 18.98 25.62 29.05 35.21 38.89 45.13 51.14 56.99 60.69 64.54 70.78 77.27 79.81 86.18" y="0" font-size="11.50">17beta-oestradiol</text>
<text transform="translate(324.80,550.60) scale(1.054,1)" x="-0.02 6.39 12.17 18.40 23.98 30.52 33.24" y="0" font-size="11.50">oxazole</text>
<text transform="translate(349.30,575.90) scale(1.010,1)" x="0.15 6.96 10.74 18.82 26.39" y="0" font-size="11.50">β-NAD</text>
<text transform="translate(370.90,597.60) scale(1.100,1)" x="0.11 2.87 5.49 11.70 17.86 23.63 26.24" y="0" font-size="11.50">lipoxin</text><text transform="translate(410.24,597.60) scale(0.977,1)" x="0.00" y="0" font-size="11.50">A</text>
<text transform="translate(417.73,598.10) scale(1.090,1)" x="0.00" y="0" font-size="7.35">4</text>
<text class="ser" x="436.6" y="404.9" font-size="24.2">B</text>
<rect x="473.4" y="664" width="2" height="32" fill="#fff"/>
</svg></body></html>
